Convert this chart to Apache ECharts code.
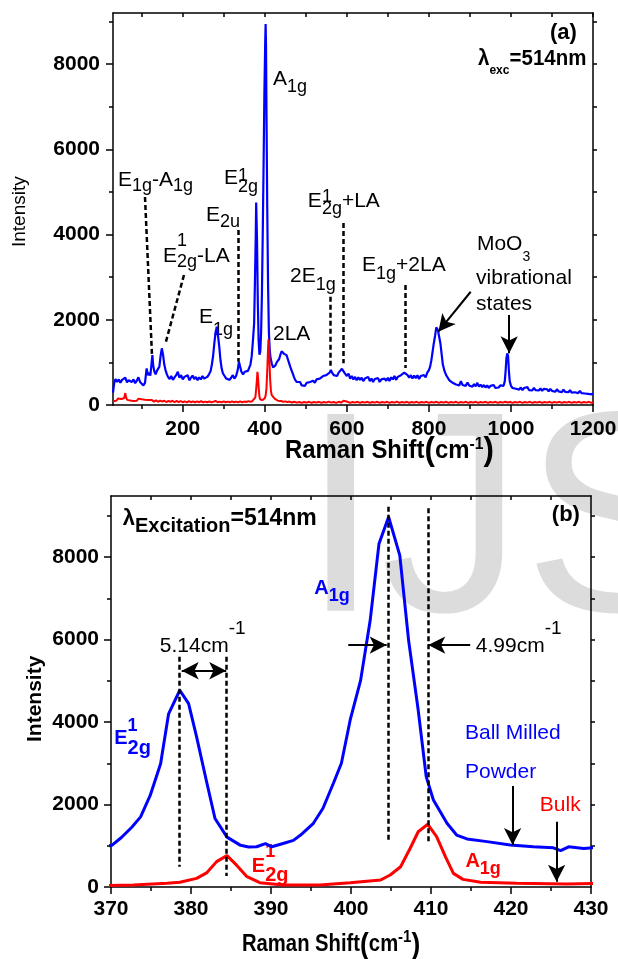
<!DOCTYPE html>
<html>
<head>
<meta charset="utf-8">
<script src="https://cdn.jsdelivr.net/npm/echarts@6/dist/echarts.min.js"></script>
<style>
html, body { margin: 0; padding: 0; background: #fff; }
#main { width: 618px; height: 959px; }
</style>
</head>
<body>
<div id="main"></div>
<script>
// (a) whole spectrum, [Raman shift cm-1, intensity]
var powderA = [
  [30,290],[33,520],[36,610],[40,540],[44,600],[48,520],[52,590],[56,560],[60,640],[64,530],[68,580],[72,620],
  [76,540],[80,600],[84,510],[88,570],[92,650],[96,540],[100,500],[104,460],[108,520],[112,860],[115,700],[118,760],
  [121,690],[124,980],[126,1170],[128,920],[131,780],[134,720],[137,800],[140,770],[143,900],[146,1150],[149,1330],
  [152,1180],[155,950],[158,820],[161,730],[164,660],[168,610],[172,680],[176,590],[180,650],[184,700],[188,780],
  [192,640],[196,700],[200,600],[204,660],[208,620],[212,700],[216,580],[220,640],[224,690],[228,610],[232,660],
  [236,580],[240,650],[244,600],[248,680],[252,620],[256,590],[260,660],[264,720],[268,800],[271,950],[274,1150],
  [277,1450],[280,1700],[283,1840],[286,1620],[289,1370],[292,1050],[295,850],[298,740],[302,680],[306,620],
  [310,660],[314,590],[318,640],[322,700],[326,620],[330,680],[334,820],[337,1016],[340,900],[343,780],[347,720],
  [351,780],[355,740],[359,800],[362,780],[365,950],[368,1135],[371,1500],[374,1915],[376,2900],[378,4000],
  [379,4750],[381,3900],[383,2400],[385,1500],[387,1180],[389,1250],[391,1700],[393,2600],[395,4000],[397,5600],
  [399,7300],[401,8500],[402,8940],[403,8400],[404,7000],[406,4600],[408,2800],[410,1700],[412,1300],[414,1100],
  [417,980],[420,880],[423,860],[426,930],[429,1000],[432,960],[435,1080],[438,1180],[441,1260],[444,1290],
  [447,1200],[450,1230],[453,1170],[456,1080],[459,990],[462,900],[465,820],[468,740],[471,660],[474,590],
  [478,540],[482,500],[486,540],[490,460],[494,500],[498,450],[502,520],[506,480],[510,540],[514,500],[518,570],
  [522,520],[526,600],[530,560],[534,620],[538,590],[542,680],[546,640],[550,700],[554,680],[558,760],[561,820],
  [564,760],[568,700],[572,720],[576,680],[580,760],[584,780],[588,850],[591,880],[594,760],[597,720],[600,680],
  [604,740],[608,620],[612,680],[616,600],[620,660],[624,580],[628,650],[632,590],[636,640],[640,560],[644,620],
  [648,580],[652,660],[656,560],[660,620],[664,540],[668,610],[672,570],[676,630],[680,540],[684,600],[688,560],
  [692,620],[696,570],[700,640],[704,560],[708,650],[712,600],[716,680],[720,590],[724,660],[728,620],[732,700],
  [736,660],[740,760],[744,720],[748,700],[752,640],[756,700],[760,620],[764,690],[768,630],[772,700],[776,610],
  [780,680],[784,640],[788,700],[792,650],[796,760],[800,820],[803,900],[806,1050],[809,1250],[812,1450],
  [815,1620],[818,1820],[820,1850],[822,1760],[825,1600],[828,1450],[831,1200],[834,950],[838,800],[842,700],
  [846,640],[850,580],[854,620],[858,520],[862,560],[866,480],[870,520],[874,460],[878,560],[882,470],[886,510],
  [890,450],[894,530],[898,460],[902,500],[906,430],[910,490],[914,440],[918,520],[922,430],[926,480],[930,420],
  [934,470],[938,410],[942,460],[946,400],[950,450],[954,410],[958,470],[962,400],[966,440],[970,410],[974,460],
  [978,420],[982,450],[985,560],[987,800],[989,1100],[991,1213],[993,1150],[995,800],[997,560],[1000,450],
  [1004,400],[1008,440],[1012,380],[1016,420],[1020,360],[1024,410],[1028,350],[1032,400],[1036,360],[1040,420],
  [1044,350],[1048,390],[1052,340],[1056,400],[1060,350],[1064,380],[1068,340],[1072,390],[1076,330],[1080,380],
  [1084,340],[1088,370],[1092,320],[1096,380],[1100,330],[1104,360],[1108,310],[1112,370],[1116,320],[1120,350],
  [1124,300],[1128,360],[1132,310],[1136,340],[1140,300],[1144,350],[1148,290],[1152,330],[1156,300],[1160,320],
  [1164,280],[1168,330],[1172,280],[1176,310],[1180,270],[1184,300],[1188,260],[1192,290],[1196,250],[1200,270]
];
var bulkA = [
  [30,90],[34,130],[38,100],[42,150],[46,110],[50,140],[54,100],[57,160],[60,280],[62,170],[65,120],[68,150],
  [72,105],[76,140],[80,95],[84,130],[88,100],[92,150],[96,110],[100,135],[104,95],[108,125],[112,90],[116,120],
  [120,85],[125,115],[130,80],[135,110],[140,75],[145,105],[150,80],[155,100],[160,70],[165,95],[170,75],[175,100],
  [180,65],[185,95],[190,70],[195,90],[200,65],[205,85],[210,60],[215,90],[220,65],[225,85],[230,60],[235,85],
  [240,65],[245,90],[250,60],[255,80],[260,65],[265,85],[270,60],[275,80],[280,95],[285,65],[290,80],[295,60],
  [300,85],[305,65],[310,80],[315,60],[320,85],[325,65],[330,80],[335,60],[340,85],[345,65],[350,80],[355,70],
  [360,90],[365,75],[370,95],[374,110],[377,180],[379,380],[381,620],[382,780],[383,700],[385,420],[387,190],
  [389,130],[391,120],[394,115],[397,135],[400,160],[402,220],[404,380],[406,800],[408,1350],[409,1540],[410,1480],
  [411,1150],[413,600],[415,330],[417,230],[420,190],[424,150],[428,120],[432,100],[436,85],[440,95],[445,75],
  [450,85],[455,70],[460,80],[466,60],[472,75],[478,55],[484,70],[490,50],[496,70],[502,55],[508,75],[514,50],
  [520,70],[526,55],[532,75],[538,50],[544,70],[550,55],[556,80],[562,55],[568,70],[574,50],[580,75],[586,55],
  [592,100],[596,60],[602,75],[608,50],[614,70],[620,55],[626,75],[632,50],[638,70],[644,55],[650,75],[656,50],
  [662,70],[668,55],[674,75],[680,50],[686,70],[692,55],[698,75],[704,50],[710,70],[716,55],[722,80],[728,50],
  [734,70],[740,55],[746,75],[752,50],[758,70],[764,55],[770,75],[776,50],[782,70],[788,55],[794,75],[800,50],
  [806,70],[812,55],[818,75],[824,50],[830,70],[836,55],[842,75],[848,50],[854,70],[860,55],[866,75],[872,50],
  [878,70],[884,55],[890,75],[896,50],[902,70],[908,55],[914,75],[920,50],[926,70],[932,55],[938,75],[944,50],
  [950,70],[956,55],[962,75],[968,50],[974,70],[980,55],[986,75],[992,60],[998,70],[1004,50],[1010,70],[1016,55],
  [1022,75],[1028,50],[1034,70],[1040,55],[1046,75],[1052,50],[1058,70],[1064,55],[1070,75],[1076,50],[1082,70],
  [1088,55],[1094,75],[1100,50],[1106,70],[1112,55],[1118,75],[1124,50],[1130,70],[1136,55],[1142,75],[1148,50],
  [1154,70],[1160,55],[1166,75],[1172,50],[1178,70],[1184,55],[1190,75],[1196,50],[1200,65]
];
// (b) close-up on E2g and A1g
var powderB = [
  [368.7,970],[370.1,1010],[371.3,1200],[372.6,1450],[373.7,1700],[374.9,2220],[376.2,2990],[377.2,4200],
  [378.6,4770],[379.7,4445],[380.7,3640],[382.0,2510],[383.0,1660],[384.5,1210],[386.2,1010],[387.2,970],
  [388.2,975],[389.3,1050],[390.1,975],[391.4,1050],[392.8,1130],[393.7,1260],[395.3,1545],[396.5,1910],
  [397.8,2515],[398.8,3000],[399.9,4050],[401.2,5010],[402.4,6465],[403.5,8325],[404.7,8970],[406.1,8040],
  [407.2,5980],[408.4,4290],[409.4,2675],[410.3,2110],[412.0,1545],[413.2,1260],[414.5,1165],[417.0,1100],
  [419.9,1020],[422.8,975],[425.3,950],[426.2,880],[427.2,975],[429.1,935],[431.2,960]
];
var bulkB = [
  [368.7,30],[372.8,50],[377.0,90],[378.6,115],[380.7,210],[382.0,350],[383.2,615],[384.5,760],[385.7,530],
  [387.0,250],[388.6,105],[391.5,50],[396.1,50],[399.9,105],[403.7,170],[404.9,290],[406.2,490],[407.4,940],
  [408.4,1340],[409.6,1520],[410.7,1220],[411.8,735],[412.8,330],[414.0,185],[416.2,115],[420.7,90],[427.0,75],
  [431.2,90]
];

// ticks
var xLabelsA = [200, 400, 600, 800, 1000, 1200];
var xMinorA = [100, 300, 500, 700, 900, 1100];
var xTopA = [100, 200, 300, 400, 500, 600, 700, 800, 900, 1000, 1100, 1200];
var xLabelsB = [370, 380, 390, 400, 410, 420, 430];
var xMinorB = [375, 385, 395, 405, 415, 425];
var xTopB = [375, 380, 385, 390, 395, 400, 405, 410, 415, 420, 425];
var yLabels = [0, 2000, 4000, 6000, 8000];
var yMinor = [1000, 3000, 5000, 7000, 9000];
var yRight = [1000, 2000, 3000, 4000, 5000, 6000, 7000, 8000, 9000];

// dashed guide lines and arrows [x1, y1, x2, y2]
var dashA = [
  [108,4880,125,1173], [203,3050,159,1485], [336,4105,336,1016],
  [560.6,2540,560.6,861], [591,4270,591,978], [742.5,2815,742.5,868]
];
var arrowA = [[901.9,2658,823,1720], [995.7,2111,995.7,1213]];
var dashB = [
  [378.54,5582,378.54,492], [384.46,5582,384.46,267],
  [404.66,9218,404.66,1098], [409.66,9180,409.66,1059]
];
var arrowB = [[399.66,5866,404.46,5866], [414.9,5866,409.66,5866], [420.2,2448,420.2,1018], [425.7,1583,425.7,128]];
var doubleArrowB = [[378.84,5243,384.4,5243]];

var FONT = '"Liberation Sans", Arial, Helvetica, sans-serif';
var BLUE = '#0000ff', RED = '#ff0000';

function axis(o) {
  return {
    type: 'value', gridIndex: o.grid, position: o.pos, min: o.min, max: o.max,
    axisLine: { show: o.line !== false, onZero: false, lineStyle: { color: '#000', width: 1.5 } },
    axisTick: { show: true, inside: !!o.inside, length: o.len, customValues: o.ticks,
      lineStyle: { color: '#000', width: 1.5 } },
    axisLabel: o.labels ? { show: true, customValues: o.labels, margin: o.margin, color: '#000',
      fontFamily: FONT, fontWeight: 'bold', fontSize: 21,
      formatter: function (v) { return String(v); } } : { show: false },
    splitLine: { show: false }
  };
}

function lines(list, style, endSym) {
  return list.map(function (l) {
    return [
      { coord: [l[0], l[1]], symbol: endSym ? endSym[0] : 'none', symbolSize: [13, 17], lineStyle: style },
      { coord: [l[2], l[3]], symbol: endSym ? endSym[1] : 'none', symbolSize: [13, 17], lineStyle: style }
    ];
  });
}
var dashStyle = { type: [5, 3], width: 2.5, color: '#000' };
var arrowStyle = { type: 'solid', width: 2, color: '#000' };

function marks(dash, arrows, doubles) {
  return {
    silent: true, animation: false, label: { show: false }, emphasis: { disabled: true },
    symbol: ['none', 'none'],
    data: lines(dash, dashStyle).concat(lines(arrows, arrowStyle, ['none', 'arrow']))
      .concat(lines(doubles || [], arrowStyle, ['arrow', 'arrow']))
  };
}

var chart = echarts.init(document.getElementById('main'));
chart.setOption({
  animation: false,
  grid: [
    { left: 113, top: 13, width: 480, height: 392, outerBoundsMode: 'none' },
    { left: 111, top: 496, width: 480, height: 391, outerBoundsMode: 'none' }
  ],
  xAxis: [
    axis({ grid: 0, pos: 'bottom', min: 30, max: 1200, ticks: xLabelsA, labels: xLabelsA, len: 7, margin: 14 }),
    axis({ grid: 0, pos: 'bottom', min: 30, max: 1200, ticks: xMinorA, len: 4, line: false }),
    axis({ grid: 0, pos: 'top', min: 30, max: 1200, ticks: xTopA, len: 4, inside: true }),
    axis({ grid: 1, pos: 'bottom', min: 370, max: 430, ticks: xLabelsB, labels: xLabelsB, len: 7, margin: 12 }),
    axis({ grid: 1, pos: 'bottom', min: 370, max: 430, ticks: xMinorB, len: 4, line: false }),
    axis({ grid: 1, pos: 'top', min: 370, max: 430, ticks: xTopB, len: 4, inside: true })
  ],
  yAxis: [
    axis({ grid: 0, pos: 'left', min: 0, max: 9200, ticks: yLabels, labels: yLabels, len: 7, margin: 13 }),
    axis({ grid: 0, pos: 'left', min: 0, max: 9200, ticks: yMinor, len: 4, line: false }),
    axis({ grid: 0, pos: 'right', min: 0, max: 9200, ticks: yRight, len: 4 }),
    axis({ grid: 1, pos: 'left', min: 0, max: 9480, ticks: yLabels, labels: yLabels, len: 7, margin: 12 }),
    axis({ grid: 1, pos: 'left', min: 0, max: 9480, ticks: yMinor, len: 4, line: false }),
    axis({ grid: 1, pos: 'right', min: 0, max: 9480, ticks: yRight, len: 4 })
  ],
  series: [
    { type: 'line', xAxisIndex: 0, yAxisIndex: 0, data: powderA, symbol: 'none', silent: true,
      lineStyle: { color: BLUE, width: 2.2 } },
    { type: 'line', xAxisIndex: 0, yAxisIndex: 0, data: bulkA, symbol: 'none', silent: true,
      lineStyle: { color: RED, width: 2 }, markLine: marks(dashA, arrowA) },
    { type: 'line', xAxisIndex: 3, yAxisIndex: 3, data: powderB, symbol: 'none', silent: true, clip: false,
      lineStyle: { color: BLUE, width: 3 } },
    { type: 'line', xAxisIndex: 3, yAxisIndex: 3, data: bulkB, symbol: 'none', silent: true, clip: false,
      lineStyle: { color: RED, width: 3 }, markLine: marks(dashB, arrowB, doubleArrowB) }
  ]
});

// annotation texts: segments are [text, size, dy, noAdvance]
var labelsA = [
  { at: [420, 7484], segs: [['A', 21, 0], ['1g', 18, 7]] },
  { at: [42, 5114], segs: [['E', 21, 0], ['1g', 18, 5], ['-A', 21, 0], ['1g', 18, 5]] },
  { at: [300.6, 5161], segs: [['E', 21, 0], ['1', 18, -3, 1], ['2g', 18, 8]] },
  { at: [256.7, 4293], segs: [['E', 21, 0], ['2u', 18, 6]] },
  { at: [505, 4622], segs: [['E', 21, 0], ['1', 18, -5, 1], ['2g', 18, 7], ['+LA', 21, 0]] },
  { at: [152, 3331], segs: [['E', 21, 0], ['1', 18, -16, 1], ['2g', 18, 5], ['-LA', 21, 0]] },
  { at: [239.6, 1877], segs: [['E', 21, 0], ['1g', 18, 11]] },
  { at: [420, 1478], segs: [['2LA', 21, 0]] },
  { at: [461.4, 2862], segs: [['2E', 21, 0], ['1g', 18, 8]] },
  { at: [637, 3120], segs: [['E', 21, 0], ['1g', 18, 8], ['+2LA', 21, 0]] },
  { at: [917, 3596], segs: [['MoO', 21, 0], ['3', 14, 10]] },
  { at: [915, 2815], segs: [['vibrational', 21, 0]] },
  { at: [915, 2189], segs: [['states', 21, 0]] },
  { at: [1095, 8540], bold: true, segs: [['(a)', 22, 0]] },
  { at: [919.7, 7937], bold: true, sx: 0.93, segs: [['λ', 22, 0], ['exc', 13, 8], ['=514nm', 22, 0]] }
];
var labelsB = [
  { at: [371.46, 8726], bold: true, segs: [['λ', 22, 0], ['Excitation', 20, 6], ['=514nm', 23, 0]] },
  { at: [425.1, 8830], bold: true, segs: [['(b)', 22, 0]] },
  { at: [395.4, 7078], bold: true, color: BLUE, segs: [['A', 20, 0], ['1g', 18, 7]] },
  { at: [376.1, 5672], segs: [['5.14cm', 21, 0], ['-1', 19, -18]] },
  { at: [415.6, 5672], segs: [['4.99cm', 21, 0], ['-1', 19, -18]] },
  { at: [370.4, 3442], bold: true, color: BLUE, segs: [['E', 20, 0], ['1', 18, -13, 1], ['2g', 20, 10]] },
  { at: [387.6, 332], bold: true, color: RED, segs: [['E', 20, 0], ['1', 18, -15, 1], ['2g', 20, 9]] },
  { at: [414.3, 453], bold: true, color: RED, segs: [['A', 20, 0], ['1g', 18, 7]] },
  { at: [414.25, 3546], color: BLUE, segs: [['Ball Milled', 21, 0]] },
  { at: [414.25, 2611], color: BLUE, segs: [['Powder', 21, 0]] },
  { at: [423.6, 1801], color: RED, segs: [['Bulk', 21, 0]] }
];
// axis titles, placed in pixels
var axisNames = [
  { px: [285, 460], bold: true, sx: 0.92, segs: [['Raman Shift', 26, 0], ['(', 34, 3], ['cm', 26, 0], ['-1', 17, -10], [')', 34, 3]] },
  { px: [242, 953], bold: true, sx: 0.88, segs: [['Raman Shift', 23, 0], ['(', 30, 3], ['cm', 23, 0], ['-1', 17, -10], [')', 30, 3]] },
  { px: [26, 247], rot: Math.PI / 2, segs: [['Intensity', 19, 0]] },
  { px: [43, 742], rot: Math.PI / 2, bold: true, segs: [['Intensity', 21, 0]] }
];

var ctx = document.createElement('canvas').getContext('2d');
function fontStr(size, bold) { return (bold ? 'bold ' : '') + size + 'px ' + FONT; }
function textWidth(t, size, bold) { ctx.font = fontStr(size, bold); return ctx.measureText(t).width; }

function makeLabel(lab, grid) {
  var p = lab.px || chart.convertToPixel({ xAxisIndex: grid * 3, yAxisIndex: grid * 3 }, lab.at);
  var children = [], cx = 0;
  lab.segs.forEach(function (s) {
    children.push({
      type: 'text', silent: true,
      style: {
        text: s[0], x: cx, y: s[2] - 0.35 * s[1], font: fontStr(s[1], lab.bold), fill: lab.color || '#000',
        align: 'left', verticalAlign: 'middle', textAlign: 'left', textVerticalAlign: 'middle'
      }
    });
    if (!s[3]) cx += textWidth(s[0], s[1], lab.bold);
  });
  return { type: 'group', x: p[0], y: p[1], scaleX: lab.sx || 1, rotation: lab.rot || 0, silent: true, children: children };
}

// faint watermark behind the plots
var graphics = [{
  type: 'text', z: -10, silent: true,
  style: { text: 'IJS', x: 301, y: 632 - 0.35 * 286, font: '286px ' + FONT, fill: '#dcdcdc',
    align: 'left', verticalAlign: 'middle', textAlign: 'left', textVerticalAlign: 'middle' }
}];
labelsA.forEach(function (l) { graphics.push(makeLabel(l, 0)); });
labelsB.forEach(function (l) { graphics.push(makeLabel(l, 1)); });
axisNames.forEach(function (l) { graphics.push(makeLabel(l)); });
chart.setOption({ graphic: graphics });
</script>
</body>
</html>
